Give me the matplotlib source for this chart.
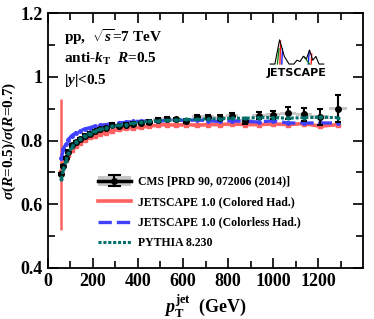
import numpy as np
import matplotlib
matplotlib.use("Agg")
import matplotlib.pyplot as plt
from matplotlib.patches import Rectangle
from matplotlib.legend_handler import HandlerBase
from matplotlib.lines import Line2D

plt.rcParams["font.family"] = ["Liberation Serif", "DejaVu Serif"]
plt.rcParams["font.weight"] = "bold"
plt.rcParams["axes.labelweight"] = "bold"
plt.rcParams["mathtext.fontset"] = "custom"
plt.rcParams["mathtext.rm"] = "Liberation Serif:bold"
plt.rcParams["mathtext.it"] = "Liberation Serif:italic:bold"
plt.rcParams["mathtext.bf"] = "Liberation Serif:bold"

# CMS binning (GeV)
bin_edges = [56, 64, 74, 84, 97, 114, 133, 153, 174, 196, 220, 245, 272, 300, 330,
             362, 395, 430, 468, 507, 548, 592, 638, 686, 737, 790, 846, 905, 967,
             1032, 1101, 1172, 1248, 1327]

cms = [0.695, 0.72, 0.745, 0.765, 0.785, 0.795, 0.805, 0.815, 0.822, 0.83, 0.835,
       0.84, 0.85, 0.845, 0.85, 0.853, 0.855, 0.858, 0.865, 0.868, 0.866, 0.862,
       0.875, 0.874, 0.872, 0.878, 0.862, 0.878, 0.880, 0.886, 0.882, 0.874, 0.900]
cms_stat = [0.004, 0.004, 0.004, 0.004, 0.004, 0.004, 0.004, 0.004, 0.004, 0.004,
            0.004, 0.004, 0.004, 0.004, 0.004, 0.004, 0.004, 0.005, 0.005, 0.005,
            0.005, 0.006, 0.006, 0.006, 0.007, 0.008, 0.009, 0.011, 0.014, 0.018,
            0.02, 0.024, 0.042]
cms_sys = [0.01] * 33

colored = [0.70, 0.722, 0.74, 0.755, 0.77, 0.782, 0.793, 0.803, 0.81, 0.815, 0.82,
           0.825, 0.83, 0.835, 0.838, 0.84, 0.842, 0.845, 0.848, 0.85, 0.848, 0.85,
           0.848, 0.85, 0.85, 0.852, 0.85, 0.85, 0.852, 0.85, 0.853, 0.845, 0.85]
colored_err_lo = [0.18] + [0.004] * 32
colored_err_hi = [0.23] + [0.004] * 32

colorless = [0.745, 0.772, 0.79, 0.803, 0.815, 0.824, 0.831, 0.836, 0.84, 0.845, 0.848,
             0.85, 0.853, 0.855, 0.857, 0.86, 0.86, 0.862, 0.86, 0.863, 0.865, 0.862,
             0.865, 0.862, 0.86, 0.862, 0.86, 0.858, 0.862, 0.855, 0.855, 0.855, 0.855]

pythia = [0.68, 0.71, 0.735, 0.76, 0.78, 0.795, 0.805, 0.815, 0.822, 0.83, 0.835,
          0.84, 0.845, 0.848, 0.85, 0.855, 0.857, 0.86, 0.862, 0.863, 0.865, 0.866,
          0.866, 0.868, 0.868, 0.87, 0.87, 0.872, 0.872, 0.87, 0.872, 0.873, 0.872]

edges = np.array(bin_edges, dtype=float)
pt = 0.5 * (edges[:-1] + edges[1:])
widths = np.diff(edges)

red = "#ff6060"
blue = "#4040ff"
teal = "#00706a"

fig = plt.figure(figsize=(3.74, 3.19), dpi=100)
ax = fig.add_axes([0.128, 0.160, 0.843, 0.799])

# CMS systematic boxes
for x, w, y, s in zip(pt, widths, cms, cms_sys):
    ax.add_patch(Rectangle((x - w / 2, y - s / 2), w, s, facecolor="#c8c8c8",
                           edgecolor="none", zorder=1))

ax.errorbar(pt, colored, yerr=[colored_err_lo, colored_err_hi], color=red, lw=2.6,
            marker="s", ms=2.5, elinewidth=1.8, capsize=0, zorder=3)
ax.plot(pt, colorless, color=blue, lw=2.4, ls=(0, (4, 1.5)), marker="o", ms=2.5, zorder=4)
ax.errorbar(pt, cms, yerr=cms_stat, color="black", fmt="o", ms=4, elinewidth=1.5,
            capsize=2.5, capthick=1.5, zorder=5)
ax.plot(pt, pythia, color=teal, lw=2.2, ls=(0, (1, 0.6)), marker="o", ms=2, zorder=6)

ax.set_xlim(0, 1400)
ax.set_ylim(0.4, 1.2)
ax.set_xticks([0, 200, 400, 600, 800, 1000, 1200])
ax.set_xticks(np.arange(100, 1400, 100), minor=True)
ax.set_yticks([0.4, 0.6, 0.8, 1.0, 1.2])
ax.set_yticklabels(["0.4", "0.6", "0.8", "1", "1.2"])
ax.set_yticks([0.5, 0.7, 0.9, 1.1], minor=True)
ax.tick_params(which="both", direction="in", top=True, right=True, labelsize=13, width=1.2)
ax.tick_params(which="major", length=7)
ax.tick_params(which="minor", length=5)
for sp in ax.spines.values():
    sp.set_linewidth(1.3)

ax.set_xlabel(r"$p_{\mathrm{T}}^{\mathrm{jet}}$  (GeV)", fontsize=13, labelpad=2)
ax.set_ylabel(r"$\sigma(R$=0.5)/$\sigma(R$=0.7)", fontsize=11, labelpad=2)

ax.text(0.05, 0.885, r"pp,  $\sqrt{s}$=7 TeV", transform=ax.transAxes, fontsize=11)
ax.text(0.05, 0.805, r"anti-$k_{\mathrm{T}}$  $R$=0.5", transform=ax.transAxes, fontsize=11)
ax.text(0.05, 0.72, r"|$y$|<0.5", transform=ax.transAxes, fontsize=11)

# JETSCAPE logo
lx = [0.705, 0.72, 0.735, 0.75, 0.765, 0.78, 0.79, 0.80, 0.81, 0.82, 0.83, 0.84, 0.85, 0.86, 0.875]
ly = [0.80, 0.80, 0.895, 0.83, 0.80, 0.80, 0.815, 0.81, 0.83, 0.82, 0.855, 0.815, 0.83, 0.80, 0.80]
ax.plot(lx, ly, color="black", lw=0.8, transform=ax.transAxes, zorder=7)
ax.plot([0.736, 0.738], [0.80, 0.89], color="red", lw=0.9, transform=ax.transAxes)
ax.plot([0.728, 0.733], [0.80, 0.86], color="green", lw=0.9, transform=ax.transAxes)
ax.plot([0.742, 0.744], [0.80, 0.86], color="blue", lw=0.9, transform=ax.transAxes)
ax.plot([0.826, 0.829], [0.80, 0.85], color="blue", lw=0.9, transform=ax.transAxes)
ax.plot([0.835, 0.837], [0.80, 0.84], color="red", lw=0.9, transform=ax.transAxes)
ax.plot([0.812, 0.83], [0.83, 0.80], color="green", lw=0.9, transform=ax.transAxes)
ax.text(0.79, 0.755, "JETSCAPE", transform=ax.transAxes, fontsize=8, ha="center",
        family="DejaVu Sans", weight="bold")


class CMSHandler(HandlerBase):
    def create_artists(self, legend, orig, xd, yd, w, h, fs, trans):
        box = Rectangle((xd, yd - h * 0.1), w, h * 1.2, facecolor="#c8c8c8",
                        edgecolor="none", transform=trans)
        ln = Line2D([xd, xd + w], [yd + h / 2] * 2, color="black", lw=2.5, transform=trans)
        vl = Line2D([xd + w / 2] * 2, [yd - h * 0.15, yd + h * 1.15], color="black", lw=1.5,
                    transform=trans)
        c1 = Line2D([xd + w / 2 - 4, xd + w / 2 + 4], [yd + h * 1.15] * 2, color="black",
                    lw=1.5, transform=trans)
        c2 = Line2D([xd + w / 2 - 4, xd + w / 2 + 4], [yd - h * 0.15] * 2, color="black",
                    lw=1.5, transform=trans)
        mk = Line2D([xd + w / 2], [yd + h / 2], marker="o", ms=4, color="black",
                    transform=trans)
        return [box, ln, vl, c1, c2, mk]


h_cms = Rectangle((0, 0), 1, 1)
h_red = Line2D([], [], color=red, lw=2.6)
h_blue = Line2D([], [], color=blue, lw=2.4, ls=(0, (4, 1.5)))
h_teal = Line2D([], [], color=teal, lw=2.2, ls=(0, (1, 0.6)))
ax.legend([h_cms, h_red, h_blue, h_teal],
          ["CMS [PRD 90, 072006 (2014)]", "JETSCAPE 1.0 (Colored Had.)",
           "JETSCAPE 1.0 (Colorless Had.)", "PYTHIA 8.230"],
          handler_map={Rectangle: CMSHandler()}, loc="upper left",
          bbox_to_anchor=(0.14, 0.385), frameon=False, fontsize=8.5,
          handlelength=2.8, handletextpad=0.6, labelspacing=0.72, borderpad=0)

fig.savefig("out.png", dpi=100)
